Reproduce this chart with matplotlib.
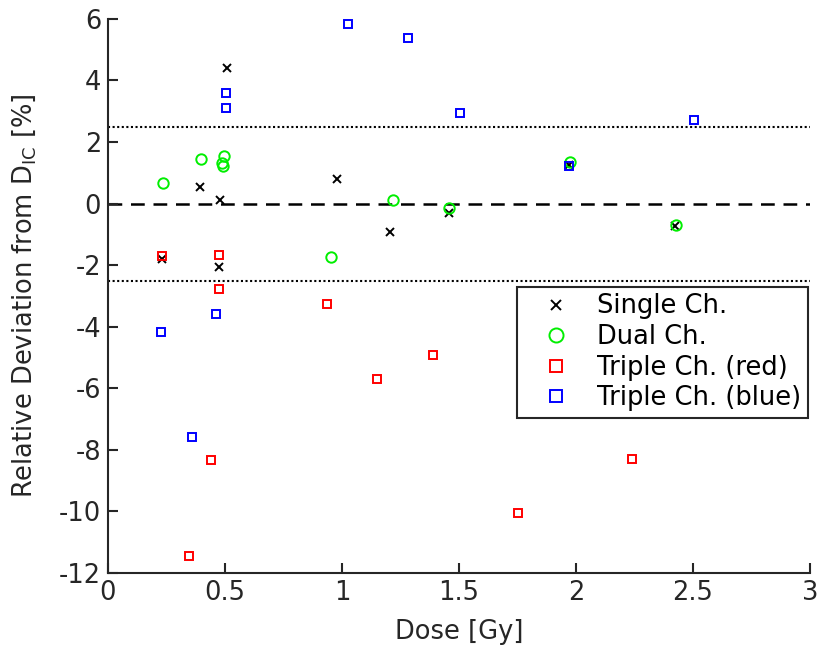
import matplotlib
matplotlib.use("Agg")
import matplotlib.pyplot as plt

plt.rcParams['font.family'] = ['DejaVu Sans']
plt.rcParams['mathtext.fontset'] = 'dejavusans'
plt.rcParams['axes.unicode_minus'] = False

# Single channel
single_x = [0.231, 0.393, 0.509, 0.479, 0.474, 0.979, 1.205, 1.457, 1.970, 2.423]
single_y = [-1.80, 0.54, 4.41, 0.12, -2.06, 0.80, -0.92, -0.30, 1.26, -0.72]

# Dual channel
dual_x = [0.235, 0.397, 0.496, 0.487, 0.491, 0.953, 1.218, 1.457, 1.974, 2.427]
dual_y = [0.67, 1.45, 1.55, 1.32, 1.22, -1.73, 0.12, -0.14, 1.35, -0.69]

# Triple channel (red)
red_x = [0.231, 0.474, 0.474, 0.936, 1.389, 1.150, 0.440, 0.346, 1.752, 2.239]
red_y = [-1.70, -1.67, -2.77, -3.26, -4.92, -5.70, -8.33, -11.45, -10.05, -8.30]

# Triple channel (blue)
blue_x = [1.026, 0.504, 0.504, 1.282, 1.504, 1.970, 2.504, 0.226, 0.462, 0.359]
blue_y = [5.84, 3.60, 3.11, 5.38, 2.94, 1.22, 2.72, -4.17, -3.58, -7.58]

tol = 2.5
axcol = '#262626'
fs = 18.5

fig = plt.figure(figsize=(8.18, 6.49), dpi=100)
ax = fig.add_axes([0.132, 0.117, 0.858, 0.854])

ax.axhline(0, color='black', linestyle=(0, (5.5, 3.5)), linewidth=1.8, zorder=1)
ax.axhline(tol, color='black', linestyle=(0, (1, 1.2)), linewidth=1.5, zorder=1)
ax.axhline(-tol, color='black', linestyle=(0, (1, 1.2)), linewidth=1.5, zorder=1)

ax.plot(single_x, single_y, 'x', color='black', ms=5.5, mew=1.4, label='Single Ch.', zorder=3)
ax.plot(dual_x, dual_y, 'o', color='#00ee00', mfc='none', ms=7.5, mew=1.4, label='Dual Ch.', zorder=3)
ax.plot(red_x, red_y, 's', color='#ff0000', mfc='none', ms=6, mew=1.4, label='Triple Ch. (red)', zorder=3)
ax.plot(blue_x, blue_y, 's', color='#0000ff', mfc='none', ms=6, mew=1.4, label='Triple Ch. (blue)', zorder=3)

ax.set_xlim(0, 3)
ax.set_ylim(-12, 6)
ax.set_xticks([0, 0.5, 1, 1.5, 2, 2.5, 3])
ax.set_xticklabels(['0', '0.5', '1', '1.5', '2', '2.5', '3'])
ax.set_yticks(range(-12, 7, 2))

for s in ['top', 'right']:
    ax.spines[s].set_visible(False)
for s in ['left', 'bottom']:
    ax.spines[s].set_color(axcol)
    ax.spines[s].set_linewidth(1.5)
ax.tick_params(direction='in', length=7, width=1.5, colors=axcol, labelsize=fs, pad=5)

ax.set_xlabel('Dose [Gy]', fontsize=fs, color=axcol, labelpad=9)
ax.set_ylabel(r'Relative Deviation from D$_{\mathrm{IC}}$ [%]', fontsize=fs, color=axcol, labelpad=15)

leg = ax.legend(loc='upper right', bbox_to_anchor=(0.997, 0.516), fontsize=fs,
                frameon=True, fancybox=False, borderaxespad=0, handlelength=2.54,
                handletextpad=0.33, labelspacing=0.18, borderpad=0.25, markerscale=1.35)
leg.get_frame().set_edgecolor(axcol)
leg.get_frame().set_linewidth(1.5)
leg.get_frame().set_alpha(1)

fig.savefig('out.png', dpi=100)
